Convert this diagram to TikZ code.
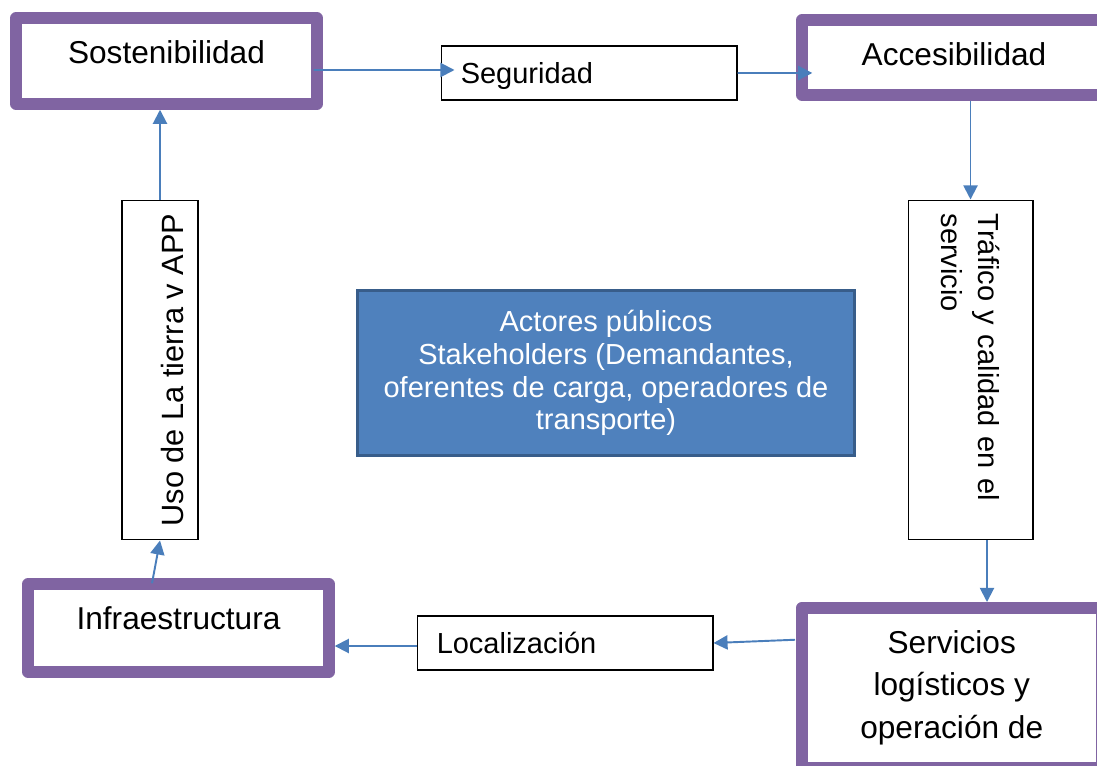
\documentclass[tikz,border=0pt]{standalone}
\usepackage{fontspec}
\setmainfont{Liberation Sans}
\usetikzlibrary{arrows.meta}
\definecolor{framepurple}{HTML}{8064A2}
\definecolor{linkblue}{HTML}{4A7EBB}
\definecolor{actorfill}{HTML}{4F81BD}
\definecolor{actordraw}{HTML}{385D8A}

\begin{document}
\begin{tikzpicture}[
    x=0.02cm, y=-0.02cm,
    frame/.style={draw=framepurple, line width=0.23cm, line join=round, fill=white, inner sep=0pt, font=\fontsize{18}{24.4}\selectfont},
    plainbox/.style={draw=black, line width=0.6pt, font=\fontsize{16.5}{21}\selectfont},
    flatbox/.style={plainbox, minimum width=5.92cm, minimum height=1.08cm, inner xsep=11pt, text width=146pt, align=left, text height=12pt, text depth=0pt},
    tallbox/.style={plainbox, minimum width=6.8cm},
    actors/.style={draw=actordraw, line width=1.7pt, fill=actorfill, text=white, align=center, font=\fontsize{16.5}{18.7}\selectfont, minimum width=9.96cm, minimum height=3.32cm},
    link/.style={draw=linkblue, line width=1.1pt, -{Triangle[length=8pt, width=8pt]}}
  ]
  \useasboundingbox (0,0) rectangle (1097,766);
  \clip (0,0) rectangle (1097,766);

  % Top row
  \node[frame, minimum width=6.02cm, minimum height=1.72cm, text height=13pt, text depth=10.2pt] (sost) at (166.5,61) {Sostenibilidad};
  \node[flatbox] (seg) at (589,73) {Seguridad};
  \node[frame, minimum width=6.08cm, minimum height=1.5cm, text height=13pt, text depth=4pt] (acc) at (954,57.5) {Accesibilidad};

  % Side boxes (rotated text)
  \node[tallbox, rotate=-90, minimum height=2.5cm, inner xsep=7.4pt, text width=178pt, align=left] (traf) at (970.5,370) {Tráfico y calidad en el\\servicio};
  \node[tallbox, rotate=90, minimum height=1.52cm, font=\fontsize{17.5}{21}\selectfont, text height=26.7pt, text depth=0pt] (uso) at (160,370) {Uso de La tierra v APP};

  % Centre
  \node[actors] (act) at (606,373) {Actores públicos\\Stakeholders (Demandantes,\\oferentes de carga, operadores de\\transporte)};

  % Bottom row
  \node[frame, minimum width=6.02cm, minimum height=1.76cm, text height=13pt, text depth=10.8pt] (infra) at (178.5,628) {Infraestructura};
  \node[flatbox] (loc) at (565,643) {Localización};
  \node[frame, anchor=north west, minimum width=6cm, minimum height=3.2cm, align=center] (serv) at (796,602) {Servicios\\logísticos y\\operación de};

  % Links
  \draw[link] ([xshift=-0.18cm, yshift=-0.18cm]sost.east) -- ([xshift=0.28cm, yshift=0.06cm]seg.west);
  \draw[link] (seg.east) -- ([xshift=0.32cm, yshift=-0.31cm]acc.west);
  \draw[link] (acc.south -| traf.west) -- (traf.west);
  \draw[link] ([xshift=0.33cm]traf.east) -- ([xshift=0.33cm]traf.east |- serv.north);
  \draw[link] ([xshift=-0.02cm, yshift=0.96cm]serv.west) -- (loc.east);
  \draw[link] ([yshift=-0.06cm]loc.west) -- ([yshift=-0.06cm]loc.west -| infra.east);
  \draw[link] ([xshift=-0.53cm, yshift=-0.1cm]infra.north) -- (uso.west);
  \draw[link] (uso.east) -- (uso.east |- sost.south);

\end{tikzpicture}
\end{document}
